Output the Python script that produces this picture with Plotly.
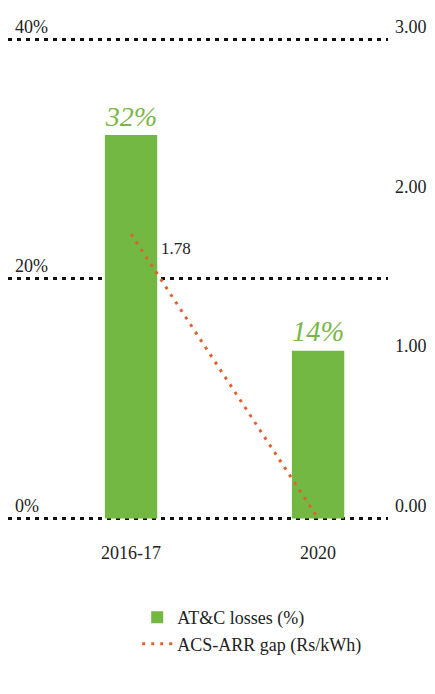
import plotly.graph_objects as go

categories = ["2016-17", "2020"]
atc_losses = [32, 14]
acs_arr_gap = [1.78, 0.0]
left_ticks = [0, 20, 40]
left_tick_labels = ["0%", "20%", "40%"]
right_ticks = [0, 1, 2, 3]
right_tick_labels = ["0.00", "1.00", "2.00", "3.00"]
gap_labels = ["1.78", "0.0"]

SERIF = "Liberation Serif, serif"
GREEN = "#72b843"
LOW, HIGH = -0.3, 42.6  # padding so the 0 and 40 gridlines and the 40% label show

fig = go.Figure()
fig.add_trace(go.Bar(
    x=categories, y=atc_losses, name="AT&C losses (%)",
    marker=dict(color=GREEN, line=dict(width=0)), width=0.28,
    texttemplate="%{y}%", textposition="outside",
    textfont=dict(family=SERIF, size=36, color="#7ab648", style="italic"),
    cliponaxis=False,
))
fig.add_trace(go.Scatter(
    x=categories, y=acs_arr_gap, name="ACS-ARR gap (Rs/kWh)", yaxis="y2",
    mode="lines",
    line=dict(color="#e0622f", width=3, dash="3px,6px"),
    cliponaxis=False,
))
shifts = [(45, -14), (42, 12)]
for cat, val, lab, (dx, dy) in zip(categories, acs_arr_gap, gap_labels, shifts):
    fig.add_annotation(x=cat, y=val, xref="x", yref="y2", text=lab, showarrow=False,
                       xshift=dx, yshift=dy,
                       font=dict(family=SERIF, size=17, color="#222"))

fig.update_layout(
    width=435, height=694,
    margin=dict(l=8, r=47, t=8, b=172),
    paper_bgcolor="white", plot_bgcolor="white",
    font=dict(family=SERIF, size=17, color="#222"),
    showlegend=True,
    legend=dict(x=0.34, y=-0.15, xanchor="left", yanchor="top",
                font=dict(family=SERIF, size=18, color="#222"),
                bgcolor="rgba(0,0,0,0)", tracegroupgap=4),
    xaxis=dict(range=[-0.658, 1.374], showgrid=False, showline=False, ticks="",
               zeroline=False, ticklabelstandoff=18,
               tickfont=dict(family=SERIF, size=18, color="#222")),
    yaxis=dict(range=[LOW, HIGH], tickvals=left_ticks, ticktext=left_tick_labels,
               showgrid=True, gridcolor="#111", gridwidth=2.5, griddash="4px,5px",
               zeroline=False, showline=False, ticks="",
               ticklabelposition="inside top", ticklabelstandoff=4,
               tickfont=dict(family=SERIF, size=18, color="#222")),
    yaxis2=dict(range=[LOW * 3 / 40, HIGH * 3 / 40], overlaying="y", side="right",
                tickvals=right_ticks, ticktext=right_tick_labels,
                showgrid=False, zeroline=False, showline=False, ticks="",
                ticklabelposition="outside top", ticklabelstandoff=6,
                tickfont=dict(family=SERIF, size=18, color="#222")),
)
fig.write_html("out.html")
